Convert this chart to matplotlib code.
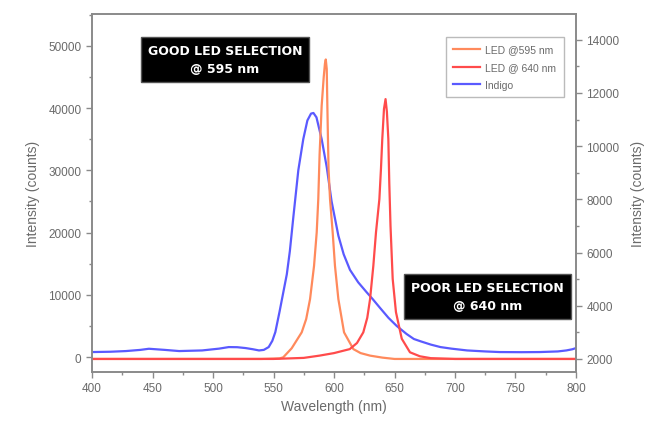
import matplotlib
matplotlib.use('Agg')
import matplotlib.pyplot as plt
from matplotlib.ticker import MultipleLocator

plt.rcParams['font.family'] = ['Liberation Sans', 'DejaVu Sans']

# LED @ 595 nm (right axis, counts)
led595_wl = [400, 450, 500, 540, 555, 558, 565, 573.3, 577, 580.2, 583.5, 585.7, 587, 588.1, 589.8,
             591.5, 592.5, 593.2, 594, 594.5, 595, 595.5, 596.7, 598.9, 600.8, 603.6, 608.3, 616, 622,
             629.8, 640, 650, 700, 750, 800]
led595_int = [2000, 2000, 2000, 2000, 2020, 2060, 2400, 3000, 3500, 4250, 5500, 6760, 8010, 9700, 11520,
              12600, 13100, 13260, 12900, 11520, 10270, 9140, 8010, 6760, 5500, 4250, 3000, 2370, 2220,
              2125, 2050, 2000, 2000, 2000, 2000]

# LED @ 640 nm (right axis, counts)
led640_wl = [400, 450, 500, 550, 575, 588, 600, 613, 619, 624.2, 627.5, 629.8, 632.5, 634.7, 637.5,
             638.8, 639.9, 641.3, 642.6, 643.7, 644.9, 645.7, 646.7, 648.5, 651.2, 656, 662.8, 671, 680,
             700, 750, 800]
led640_int = [2000, 2000, 2000, 2000, 2040, 2125, 2220, 2370, 2600, 3000, 3550, 4250, 5500, 6760, 8010,
              9140, 10270, 11400, 11770, 11300, 10270, 8600, 7000, 5010, 3760, 2760, 2250, 2100, 2030,
              2000, 2000, 2000]

# Indigo (left axis, counts)
indigo_wl = [400, 415, 428, 440, 447, 460, 472, 491, 505, 513, 520, 527, 533, 538, 542, 546, 549, 551.5,
             555, 558, 561, 563.5, 566.4, 570.5, 574.6, 578, 581, 583, 585.5, 589.8, 594, 598, 603.6, 608,
             613.2, 620, 627, 632, 638, 645, 651.8, 660, 666, 672, 680, 688, 697, 710, 725, 737, 755, 770,
             785, 792, 797, 800]
indigo_int = [800, 850, 960, 1150, 1330, 1150, 960, 1060, 1350, 1600, 1580, 1440, 1250, 1060, 1150, 1600,
              2600, 4000, 7300, 10300, 13300, 17000, 22500, 30000, 35000, 38000, 39100, 39200, 38500,
              35000, 30500, 25000, 19500, 16500, 14000, 12000, 10400, 9300, 7900, 6300, 5000, 3700, 2900,
              2500, 2000, 1600, 1350, 1060, 900, 800, 780, 800, 900, 1060, 1250, 1440]

led595_color = '#ff8a5c'
led640_color = '#ff4b4b'
indigo_color = '#5a5aff'
axis_gray = '#8a8a8a'
text_gray = '#6a6a6a'

fig = plt.figure(figsize=(6.49, 4.27), dpi=100)
ax = fig.add_axes([0.1418, 0.1265, 0.7457, 0.8384])
ax2 = ax.twinx()

l3, = ax.plot(indigo_wl, indigo_int, color=indigo_color, lw=1.6, label='Indigo')
l1, = ax2.plot(led595_wl, led595_int, color=led595_color, lw=1.6, label='LED @595 nm')
l2, = ax2.plot(led640_wl, led640_int, color=led640_color, lw=1.6, label='LED @ 640 nm')

ax.set_xlim(400, 800)
ax.set_ylim(-2400, 55100)
ax2.set_ylim(1510, 14970)

ax.xaxis.set_major_locator(MultipleLocator(50))
ax.xaxis.set_minor_locator(MultipleLocator(25))
ax.yaxis.set_major_locator(MultipleLocator(10000))
ax.yaxis.set_minor_locator(MultipleLocator(5000))
ax2.yaxis.set_major_locator(MultipleLocator(2000))
ax2.yaxis.set_minor_locator(MultipleLocator(1000))

for a in (ax, ax2):
    for s in a.spines.values():
        s.set_color(axis_gray)
        s.set_linewidth(1.2)
    a.tick_params(which='both', direction='out', colors=axis_gray, labelcolor=text_gray,
                  labelsize=8.5, width=1)
    a.tick_params(which='major', length=4)
    a.tick_params(which='minor', length=2.5)

ax.set_xlabel('Wavelength (nm)', fontsize=10, color=text_gray, labelpad=3)
ax.set_ylabel('Intensity (counts)', fontsize=10, color=text_gray, labelpad=6)
ax2.set_ylabel('Intensity (counts)', fontsize=10, color=text_gray, labelpad=8)

leg = ax2.legend(handles=[l1, l2, l3], loc='upper right', fontsize=7.5, frameon=True,
                 fancybox=False, handlelength=2.6, borderpad=0.7, labelspacing=0.75,
                 handletextpad=0.5, bbox_to_anchor=(0.985, 0.95))
leg.get_frame().set_edgecolor('#aaaaaa')
for t in leg.get_texts():
    t.set_color(text_gray)

box_font = ['Liberation Sans Narrow', 'DejaVu Sans']
bbox = dict(boxstyle='square,pad=0.55', facecolor='black', edgecolor='#555555', lw=1)
ax.text(0.275, 0.872, 'GOOD LED SELECTION\n@ 595 nm', transform=ax.transAxes, ha='center',
        va='center', color='white', fontsize=9, fontweight='bold', family=box_font,
        linespacing=1.5, bbox=bbox)
ax.text(0.817, 0.21, 'POOR LED SELECTION\n@ 640 nm', transform=ax.transAxes, ha='center',
        va='center', color='white', fontsize=9, fontweight='bold', family=box_font,
        linespacing=1.5, bbox=bbox)

fig.savefig('out.png', dpi=100)
